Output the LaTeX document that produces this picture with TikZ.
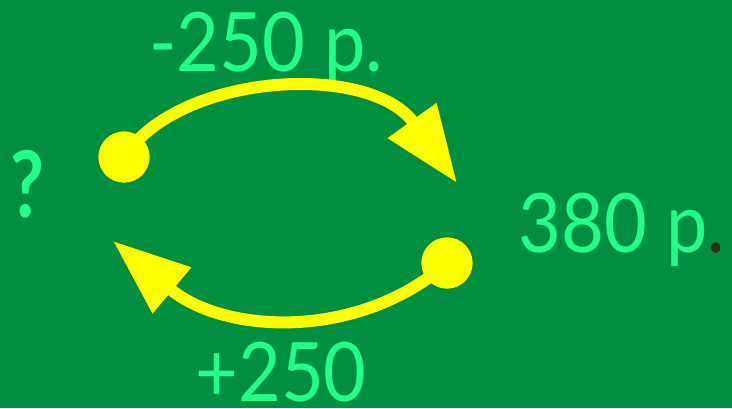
\documentclass[tikz,border=0pt]{standalone}
\usepackage{fontspec}
\setmainfont{Lato}
\usetikzlibrary{arrows.meta}
\definecolor{bg}{RGB}{0,143,64}
\definecolor{txt}{RGB}{34,255,136}
\definecolor{yel}{RGB}{255,255,0}
\definecolor{darkdot}{RGB}{60,40,20}
\tikzset{
  lbl/.style={text=txt, inner sep=0pt, xscale=0.9, font=\fontsize{82}{82}\selectfont},
  dot/.style={circle, fill=yel, minimum size=51pt, inner sep=0pt},
  flow/.style={draw=yel, line width=12pt, -{Triangle[length=77pt 0 0,width=57pt 0 0]}}
}
\begin{document}
\begin{tikzpicture}[x=1pt,y=-1pt]
\fill[bg] (0,0) rectangle (732,408);
\useasboundingbox (0,0) rectangle (732,408);
% texts
\node[lbl, anchor=base] (t250) at (266,71) {-250 р.};
\node[lbl, anchor=base] (t380) at (622,252) {380 р{\color{darkdot}.}};
\node[lbl, anchor=base] (tplus) at (281,401) {+250};
\node[text=txt, inner sep=0pt, anchor=base, font=\fontsize{92}{92}\selectfont\bfseries, xscale=0.8] (q) at (27,217) {?};
% dots
\node[dot] (s1) at (124,157) {};
\node[dot] (s2) at (447,263) {};
\coordinate (e1) at (457,183);
\coordinate (e2) at (113,241);
% arrows
\draw[flow] (s1.center) .. controls (180,72) and (370,62) .. (e1);
\draw[flow] (s2.center) .. controls (360,340) and (225,335) .. (e2);
\node[dot] at (s1) {};
\node[dot] at (s2) {};
\end{tikzpicture}
\end{document}
